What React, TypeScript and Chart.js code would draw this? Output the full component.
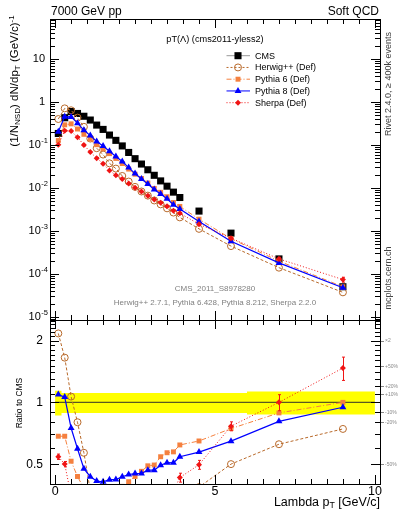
import React, { useEffect, useRef } from "react";
import { Chart, registerables } from "chart.js";

Chart.register(...registerables);

const FONT = '"Liberation Sans", Arial, Helvetica, sans-serif';

// ---- data -----------------------------------------------------------
const pT = [0.1, 0.3, 0.5, 0.7, 0.9, 1.1, 1.3, 1.5, 1.7, 1.9, 2.1, 2.3, 2.5, 2.7, 2.9, 3.1, 3.3, 3.5, 3.7, 3.9, 4.5, 5.5, 7, 9];
const binEdges = [0, 0.2, 0.4, 0.6, 0.8, 1.0, 1.2, 1.4, 1.6, 1.8, 2.0, 2.2, 2.4, 2.6, 2.8, 3.0, 3.2, 3.4, 3.6, 3.8, 4.0, 5, 6, 8, 10];

const cms = [0.185, 0.43, 0.6, 0.54, 0.465, 0.38, 0.29, 0.23, 0.17, 0.128, 0.095, 0.067, 0.048, 0.036, 0.0265, 0.0197, 0.0146, 0.011, 0.008, 0.006, 0.0029, 0.00089, 0.000224, 0.0000504];
const herwig = [0.401, 0.71, 0.64, 0.432, 0.264, 0.141, 0.0841, 0.0598, 0.0374, 0.0282, 0.019, 0.0141, 0.0106, 0.00828, 0.00663, 0.00512, 0.00416, 0.00336, 0.00268, 0.00207, 0.00112, 0.000445, 0.00014, 0.0000374];
const pythia6 = [0.1265, 0.294, 0.31, 0.235, 0.177, 0.137, 0.1015, 0.0817, 0.0629, 0.0486, 0.037, 0.0275, 0.0209, 0.0166, 0.013, 0.00975, 0.00793, 0.00625, 0.00459, 0.00372, 0.00188, 0.000663, 0.000199, 0.0000504];
const pythia8 = [0.202, 0.456, 0.45, 0.321, 0.221, 0.165, 0.12, 0.0943, 0.0714, 0.0538, 0.0412, 0.0298, 0.0216, 0.0162, 0.01238, 0.0092, 0.00721, 0.00559, 0.00406, 0.00326, 0.00166, 0.000576, 0.000181, 0.0000477];
const sherpa = [0.1005, 0.215, 0.21, 0.151, 0.1, 0.0684, 0.0493, 0.0368, 0.0255, 0.0198, 0.01615, 0.0127, 0.0101, 0.00828, 0.00663, 0.00542, 0.00453, 0.00374, 0.00296, 0.00258, 0.00144, 0.000681, 0.000224, 0.0000741];
const sherpaRelErr = [0.03, 0.03, 0.03, 0.03, 0.03, 0.03, 0.03, 0.03, 0.03, 0.03, 0.03, 0.03, 0.03, 0.03, 0.03, 0.03, 0.03, 0.03, 0.04, 0.05, 0.05, 0.05, 0.09, 0.13];
const cmsBandHi = [1.14, 1.11, 1.11, 1.11, 1.11, 1.11, 1.11, 1.11, 1.11, 1.11, 1.11, 1.11, 1.11, 1.11, 1.11, 1.11, 1.11, 1.11, 1.11, 1.11, 1.11, 1.11, 1.13, 1.13];
const cmsBandLo = [0.862, 0.888, 0.888, 0.888, 0.888, 0.888, 0.888, 0.888, 0.888, 0.888, 0.888, 0.888, 0.888, 0.888, 0.888, 0.888, 0.888, 0.888, 0.888, 0.888, 0.888, 0.888, 0.872, 0.872];

// ---- axes / tick labels ----------------------------------------------
const xRange = [-0.16, 10.16];
const yTopRange = [8.5e-6, 85];
const yRatioRange = [0.4, 2.52];
const xTickValues = [0, 5, 10];
const xTickLabels = ["0", "5", "10"];
const xMinorStep = 0.5;
const yTopExponents = [1, 0, -1, -2, -3, -4, -5];
const ratioTickValues = [0.5, 1, 2];
const ratioTickLabels = ["0.5", "1", "2"];
const ratioMinorStep = 0.1;
const ratioSideValues = [2, 1.5, 1.2, 1.1, 0.9, 0.8, 0.5];
const ratioSideLabels = ["\u00d72", "+50%", "+20%", "+10%", "-10%", "-20%", "-50%"];

// ---- styles -----------------------------------------------------------
const C_CMS = "#000000";
const C_HW = "#b8692a";
const C_P6 = "#f5803e";
const C_P8 = "#0000ff";
const C_SH = "#f01414";

const legendEntries = [
  { label: "CMS", color: C_CMS, line: "#999999", dash: [] as number[], style: "rect", r: 5, fill: true },
  { label: "Herwig++ (Def)", color: C_HW, line: C_HW, dash: [2, 2], style: "circle", r: 3.5, fill: false },
  { label: "Pythia 6 (Def)", color: C_P6, line: C_P6, dash: [5, 2, 1, 2], style: "rect", r: 3.5, fill: true },
  { label: "Pythia 8 (Def)", color: C_P8, line: C_P8, dash: [] as number[], style: "triangle", r: 4, fill: true },
  { label: "Sherpa (Def)", color: C_SH, line: C_SH, dash: [1, 2], style: "rectRot", r: 3, fill: true },
];

function crisp(v: number) {
  return Math.round(v) + 0.5;
}

function line(ctx: CanvasRenderingContext2D, x1: number, y1: number, x2: number, y2: number) {
  ctx.beginPath();
  ctx.moveTo(x1, y1);
  ctx.lineTo(x2, y2);
  ctx.stroke();
}

function drawMarker(ctx: CanvasRenderingContext2D, style: string, r: number, x: number, y: number, color: string, fill: boolean) {
  ctx.save();
  ctx.setLineDash([]);
  ctx.fillStyle = color;
  ctx.strokeStyle = color;
  ctx.lineWidth = 1;
  ctx.beginPath();
  if (style === "circle") {
    ctx.arc(x, y, r, 0, Math.PI * 2);
  } else if (style === "rect") {
    const s = r * Math.SQRT1_2;
    ctx.rect(x - s, y - s, 2 * s, 2 * s);
  } else if (style === "triangle") {
    ctx.moveTo(x, y - r);
    ctx.lineTo(x + r * 0.866, y + r * 0.5);
    ctx.lineTo(x - r * 0.866, y + r * 0.5);
    ctx.closePath();
  } else {
    ctx.moveTo(x, y - r);
    ctx.lineTo(x + r, y);
    ctx.lineTo(x, y + r);
    ctx.lineTo(x - r, y);
    ctx.closePath();
  }
  if (fill) ctx.fill();
  else ctx.stroke();
  ctx.restore();
}

function frameAndXTicks(chart: any) {
  const { ctx, chartArea } = chart;
  const xs = chart.scales.x;
  const L = Math.round(chartArea.left), R = Math.round(chartArea.right);
  const T = Math.round(chartArea.top), B = Math.round(chartArea.bottom);
  ctx.strokeStyle = "#000";
  ctx.lineWidth = 1;
  ctx.setLineDash([]);
  ctx.strokeRect(L + 0.5, T + 0.5, R - L, B - T);
  const n = Math.round((xRange[1] - 0) / xMinorStep);
  for (let i = 0; i <= n; i++) {
    const v = i * xMinorStep;
    if (v > xRange[1]) continue;
    const px = crisp(xs.getPixelForValue(v));
    const len = xTickValues.includes(v) ? 9 : 5;
    line(ctx, px, B, px, B - len);
    line(ctx, px, T, px, T + len);
  }
  return { L, R, T, B };
}

function sherpaErrorBars(chart: any, values: number[]) {
  const { ctx, chartArea } = chart;
  const xs = chart.scales.x, ys = chart.scales.y;
  ctx.save();
  ctx.beginPath();
  ctx.rect(chartArea.left, chartArea.top, chartArea.right - chartArea.left, chartArea.bottom - chartArea.top);
  ctx.clip();
  ctx.strokeStyle = C_SH;
  ctx.lineWidth = 1;
  ctx.setLineDash([]);
  values.forEach((v, i) => {
    const px = crisp(xs.getPixelForValue(pT[i]));
    const y1 = ys.getPixelForValue(v * (1 + sherpaRelErr[i]));
    const y2 = ys.getPixelForValue(v * (1 - sherpaRelErr[i]));
    line(ctx, px, y1, px, y2);
    line(ctx, px - 1.5, y1, px + 1.5, y1);
    line(ctx, px - 1.5, y2, px + 1.5, y2);
  });
  ctx.restore();
}

const topPlugin = {
  id: "topDecor",
  afterDatasetsDraw(chart: any) {
    sherpaErrorBars(chart, sherpa);
  },
  afterDraw(chart: any) {
    const { ctx } = chart;
    const ys = chart.scales.y;
    ctx.save();
    const { L, R } = frameAndXTicks(chart);
    for (let d = -6; d <= 2; d++) {
      for (let k = 1; k <= 9; k++) {
        const v = k * Math.pow(10, d);
        if (v < yTopRange[0] || v > yTopRange[1]) continue;
        const py = crisp(ys.getPixelForValue(v));
        const len = k === 1 ? 9 : 5;
        line(ctx, L, py, L + len, py);
        line(ctx, R, py, R - len, py);
      }
    }
    ctx.fillStyle = "#000";
    ctx.textBaseline = "middle";
    ctx.textAlign = "right";
    yTopExponents.forEach((e) => {
      const py = ys.getPixelForValue(Math.pow(10, e));
      if (e === 1 || e === 0) {
        ctx.font = `11px ${FONT}`;
        ctx.fillText(e === 1 ? "10" : "1", 45, py + 0.5);
      } else {
        const ex = String(e);
        ctx.font = `7.5px ${FONT}`;
        const w = ctx.measureText(ex).width;
        ctx.fillText(ex, 48, py - 4);
        ctx.font = `11px ${FONT}`;
        ctx.fillText("10", 48 - w - 0.5, py + 0.5);
      }
    });
    // legend
    ctx.textAlign = "left";
    ctx.font = `9px ${FONT}`;
    legendEntries.forEach((en, i) => {
      const y = 55.7 + i * 11.75;
      ctx.strokeStyle = en.line;
      ctx.lineWidth = 1;
      ctx.setLineDash(en.dash);
      line(ctx, 226.5, y, 250, y);
      ctx.setLineDash([]);
      drawMarker(ctx, en.style, en.r, 238, y, en.color, en.fill);
      ctx.fillStyle = "#000";
      ctx.fillText(en.label, 255, y + 0.5);
    });
    ctx.restore();
  },
};

const ratioPlugin = {
  id: "ratioDecor",
  afterDatasetsDraw(chart: any) {
    sherpaErrorBars(chart, sherpa.map((v, i) => v / cms[i]));
  },
  afterDraw(chart: any) {
    const { ctx } = chart;
    const ys = chart.scales.y, xs = chart.scales.x;
    ctx.save();
    const { L, R, B } = frameAndXTicks(chart);
    const nMin = Math.round(yRatioRange[0] / ratioMinorStep);
    const nMax = Math.floor(yRatioRange[1] / ratioMinorStep + 1e-6);
    for (let i = nMin; i <= nMax; i++) {
      const v = Math.round(i * ratioMinorStep * 10) / 10;
      const py = crisp(ys.getPixelForValue(v));
      const len = ratioTickValues.includes(v) ? 9 : 5;
      line(ctx, L, py, L + len, py);
      line(ctx, R, py, R - len, py);
    }
    ctx.fillStyle = "#000";
    ctx.textBaseline = "middle";
    ctx.textAlign = "right";
    ctx.font = `12px ${FONT}`;
    ratioTickValues.forEach((v, i) => {
      ctx.fillText(ratioTickLabels[i], 43, ys.getPixelForValue(v) + 0.5);
    });
    ctx.textAlign = "center";
    ctx.font = `12.5px ${FONT}`;
    xTickValues.forEach((v, i) => {
      ctx.fillText(xTickLabels[i], xs.getPixelForValue(v), B + 8);
    });
    ctx.textAlign = "left";
    ctx.font = `5px ${FONT}`;
    ctx.fillStyle = "#888";
    ctx.strokeStyle = "#888";
    ratioSideValues.forEach((v, i) => {
      const py = ys.getPixelForValue(v);
      line(ctx, R + 1, crisp(py), R + 4, crisp(py));
      ctx.fillText(ratioSideLabels[i], R + 5, py + 0.5);
    });
    ctx.restore();
  },
};

function modelDataset(label: string, values: number[], color: string, dash: number[], style: string, r: number, fill: boolean, lw = 1) {
  return {
    label,
    data: pT.map((x, i) => ({ x, y: values[i] })),
    showLine: true,
    borderColor: color,
    borderWidth: lw,
    borderDash: dash,
    pointStyle: style,
    pointRadius: r,
    pointBackgroundColor: fill ? color : "rgba(0,0,0,0)",
    pointBorderColor: color,
    pointBorderWidth: fill ? 0 : 1,
    tension: 0,
  };
}

function bandPoints(vals: number[]) {
  const pts: { x: number; y: number }[] = [];
  vals.forEach((v, i) => {
    pts.push({ x: binEdges[i], y: v });
    pts.push({ x: binEdges[i + 1], y: v });
  });
  return pts;
}

const baseOptions = (yType: string, yMin: number, yMax: number, padding: any) => ({
  animation: false as const,
  responsive: false,
  events: [] as any[],
  layout: { padding },
  plugins: { legend: { display: false }, tooltip: { enabled: false } },
  scales: {
    x: { type: "linear" as const, min: xRange[0], max: xRange[1], display: false },
    y: { type: yType as any, min: yMin, max: yMax, display: false },
  },
});

export default function App() {
  const topRef = useRef<HTMLCanvasElement>(null);
  const botRef = useRef<HTMLCanvasElement>(null);

  useEffect(() => {
    const topChart = new Chart(topRef.current!, {
      type: "scatter",
      data: {
        datasets: [
          modelDataset("Sherpa (Def)", sherpa, C_SH, [1, 2], "rectRot", 3, true),
          modelDataset("Pythia 8 (Def)", pythia8, C_P8, [], "triangle", 4, true, 1.2),
          modelDataset("Pythia 6 (Def)", pythia6, C_P6, [5, 2, 1, 2], "rect", 3.5, true),
          modelDataset("Herwig++ (Def)", herwig, C_HW, [3, 2], "circle", 3.5, false),
          {
            label: "CMS",
            data: pT.map((x, i) => ({ x, y: cms[i] })),
            showLine: false,
            pointStyle: "rect",
            pointRadius: 5,
            pointBackgroundColor: C_CMS,
            pointBorderWidth: 0,
          },
        ] as any,
      },
      options: baseOptions("logarithmic", yTopRange[0], yTopRange[1], { left: 50, right: 19, top: 19, bottom: 5 }) as any,
      plugins: [topPlugin],
    });

    const ratio = (arr: number[]) => arr.map((v, i) => v / cms[i]);
    const botChart = new Chart(botRef.current!, {
      type: "scatter",
      data: {
        datasets: [
          modelDataset("Sherpa (Def)", ratio(sherpa), C_SH, [1, 2], "rectRot", 3, true),
          modelDataset("Pythia 8 (Def)", ratio(pythia8), C_P8, [], "triangle", 4, true, 1.2),
          modelDataset("Pythia 6 (Def)", ratio(pythia6), C_P6, [5, 2, 1, 2], "rect", 3.5, true),
          modelDataset("Herwig++ (Def)", ratio(herwig), C_HW, [3, 2], "circle", 3.5, false),
          {
            label: "CMS",
            data: [{ x: binEdges[0], y: 1 }, { x: binEdges[binEdges.length - 1], y: 1 }],
            showLine: true,
            borderColor: "rgba(60,60,40,0.85)",
            borderWidth: 1.2,
            pointRadius: 0,
          },
          {
            label: "bandHi",
            data: bandPoints(cmsBandHi),
            showLine: true,
            borderWidth: 0,
            pointRadius: 0,
            backgroundColor: "#ffff00",
            fill: "+1",
          },
          {
            label: "bandLo",
            data: bandPoints(cmsBandLo),
            showLine: true,
            borderWidth: 0,
            pointRadius: 0,
            fill: false,
          },
        ] as any,
      },
      options: baseOptions("logarithmic", yRatioRange[0], yRatioRange[1], { left: 50, right: 19, top: 5, bottom: 35 }) as any,
      plugins: [ratioPlugin],
    });

    return () => {
      topChart.destroy();
      botChart.destroy();
    };
  }, []);

  const abs = (extra: React.CSSProperties): React.CSSProperties => ({
    position: "absolute",
    whiteSpace: "nowrap",
    lineHeight: 1,
    ...extra,
  });
  const sub: React.CSSProperties = { fontSize: "0.7em", verticalAlign: "-0.3em" };
  const sup: React.CSSProperties = { fontSize: "0.7em", verticalAlign: "0.5em" };

  return (
    <div style={{ position: "fixed", left: 0, top: 0, width: 399, height: 519, background: "#fff", fontFamily: FONT, color: "#000" }}>
      <canvas ref={topRef} width={399} height={325} style={{ position: "absolute", left: 0, top: 0 }} />
      <canvas ref={botRef} width={399} height={204} style={{ position: "absolute", left: 0, top: 315 }} />

      <div style={abs({ left: 51, top: 10.5, transform: "translateY(-50%)", fontSize: 12 })}>7000 GeV pp</div>
      <div style={abs({ right: 20, top: 10.5, transform: "translateY(-50%)", fontSize: 12 })}>Soft QCD</div>
      <div style={abs({ left: 215, top: 40, transform: "translate(-50%,-50%)", fontSize: 9.2 })}>pT(Λ) (cms2011-yless2)</div>
      <div style={abs({ left: 215, top: 289, transform: "translate(-50%,-50%)", fontSize: 8, color: "#808080" })}>CMS_2011_S8978280</div>
      <div style={abs({ left: 215, top: 302.7, transform: "translate(-50%,-50%)", fontSize: 8, color: "#808080" })}>
        Herwig++ 2.7.1, Pythia 6.428, Pythia 8.212, Sherpa 2.2.0
      </div>
      <div style={abs({ left: 15, top: 81, transform: "translate(-50%,-50%) rotate(-90deg)", fontSize: 11.5 })}>
        (1/N<span style={sub}>NSD</span>) dN/dp<span style={sub}>T</span> (GeV/c)<span style={sup}>-1</span>
      </div>
      <div style={abs({ left: 388, top: 83.5, transform: "translate(-50%,-50%) rotate(-90deg)", fontSize: 9, color: "#444" })}>
        Rivet 2.4.0, ≥ 400k events
      </div>
      <div style={abs({ left: 388, top: 277.5, transform: "translate(-50%,-50%) rotate(-90deg)", fontSize: 9, color: "#444" })}>
        mcplots.cern.ch
      </div>
      <div style={abs({ left: 19, top: 402.5, transform: "translate(-50%,-50%) rotate(-90deg)", fontSize: 8.5 })}>Ratio to CMS</div>
      <div style={abs({ right: 19, top: 503, transform: "translateY(-50%)", fontSize: 12.5 })}>
        Lambda p<span style={sub}>T</span> [GeV/c]
      </div>
    </div>
  );
}
